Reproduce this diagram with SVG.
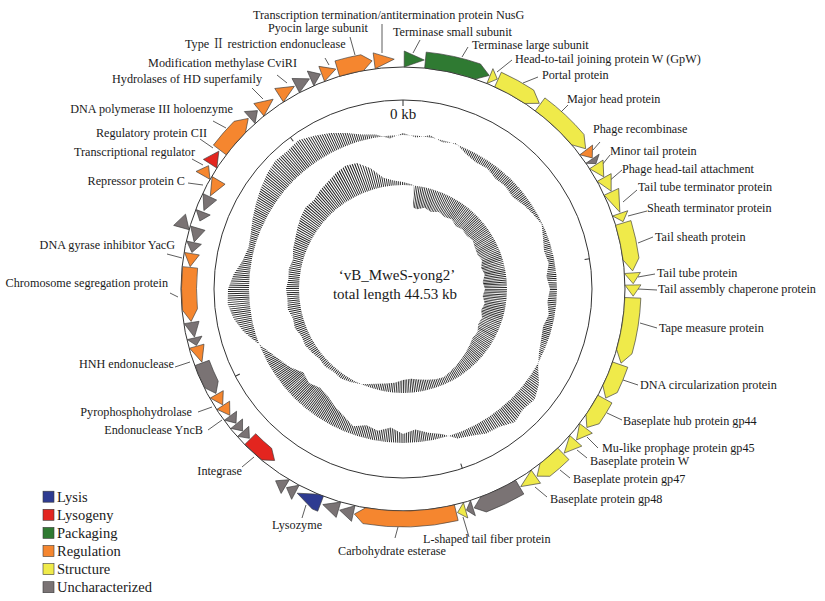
<svg xmlns="http://www.w3.org/2000/svg" width="825" height="601" viewBox="0 0 825 601">
<style>
text{font-family:"Liberation Serif","Times New Roman","Noto Serif CJK SC","Noto Sans CJK SC",serif;fill:#1a1a1a}
.l{font-size:12.2px}
.lg{font-size:14.5px}
.c{font-size:15px}
.gn path,.leg rect{stroke:#3a3a3a;stroke-width:.6}
.o{fill:#F5862F}.y{fill:#EFEA4A}.gr{fill:#2F7A32}.u{fill:#7A7374}.r{fill:#E3251F}.b{fill:#2E3B91}
#connectors path{stroke:#333;stroke-width:.8;fill:none}
.ax{fill:none;stroke:#333;stroke-width:1}
.tk{stroke:#333;stroke-width:1;fill:none}
.h{fill:none;stroke:#222;stroke-dasharray:0.9 1.05}
</style>
<defs>
<clipPath id="c1"><path clip-rule="evenodd" d="M0 -156L13.25 -151.42L27.08 -153.63L39.34 -146.82L53.01 -145.65L62.97 -135.04L73 -126.44L84.32 -120.42L92.56 -110.3L102.53 -102.53L109.54 -91.92L120.42 -84.32L129.9 -75L138.66 -64.66L140.02 -50.96L141.02 -37.78L145.75 -25.69L143.45 -12.56L147 0L144.45 12.64L145.75 25.69L140.06 37.53L138.14 50.27L135.95 63.39L135.1 78L135.99 95.22L131.75 110.56L120.21 120.21L111.85 133.28L96.36 137.63L83.5 144.62L68.46 146.82L54.38 149.41L38.82 144.89L25.35 143.78L12.3 140.46L0 145L-12.12 138.47L-25 141.81L-36.49 136.19L-49.93 137.2L-59.16 126.88L-68 117.78L-75.14 107.32L-82.92 98.81L-94.04 94.04L-99.58 83.56L-112.23 78.58L-122.97 71L-134.13 62.54L-146.59 53.35L-159.37 42.7L-169.39 29.86L-175.33 15.35L-175 0L-169.35 -14.82L-160.52 -28.3L-154.54 -41.41L-152.23 -55.4L-150.45 -70.15L-147.22 -85L-142.54 -99.81L-136.35 -114.42L-127.99 -127.99L-115.7 -137.88L-104.4 -149.09L-88.5 -153.28L-72.69 -155.88L-56.77 -155.99L-41.41 -154.54L-27.26 -154.61L-13.17 -150.43ZM0 -154A154 154 0 1 1 0 154A154 154 0 1 1 0 -154Z"/></clipPath>
<clipPath id="c2"><path clip-rule="evenodd" d="M0 -107L9.16 -104.6L10.87 -103.43L10 -81.39L14.06 -79.77L21.74 -81.14L28.04 -77.06L35.92 -77.04L41.5 -71.88L48.76 -69.63L52.71 -62.81L59.4 -59.4L63.58 -53.35L69.63 -48.76L71.88 -41.5L74.32 -34.65L78.93 -28.73L78.24 -20.96L81.74 -14.41L79.7 -6.98L82 0L79.7 6.98L81.74 14.41L78.24 20.96L78.93 28.73L75.22 35.08L74.48 43L69.63 48.76L66.64 55.92L62.93 62.93L58.49 69.71L53.34 76.19L47.5 82.27L40.99 87.91L32.83 90.21L24.33 90.79L15.97 90.6L7.85 89.66L0 91L-8.2 93.64L-16.67 94.54L-25.36 94.66L-34.54 94.91L-44.16 94.71L-53.5 92.66L-62.52 89.29L-69.42 82.73L-77.78 77.78L-83.49 70.07L-90.93 63.67L-97.86 56.5L-101.51 47.33L-108.07 39.33L-110.11 29.5L-115.22 20.31L-115.56 10.12L-117 0L-114.56 -10.03L-114.24 -20.14L-110.11 -29.5L-109.94 -40.01L-107.85 -50.29L-105.65 -61L-102.4 -71.7L-97.28 -81.64L-89.09 -89.09L-82.92 -98.81L-75.14 -107.32L-67 -116.04L-57.47 -123.26L-45.83 -125.92L-32.35 -120.74L-19.62 -111.28L-9.5 -108.59ZM0 -104A104 104 0 1 1 0 104A104 104 0 1 1 0 -104Z"/></clipPath>
</defs>
<rect width="825" height="601" fill="#fff"/>
<g id="map-axes" transform="translate(403 289)">
<circle class="ax" r="222" stroke="#555"/>
<circle class="ax" r="189"/>
<circle class="h" r="155.5" stroke-width="60" clip-path="url(#c1)"/>
<circle class="h" r="107.5" stroke-width="66" clip-path="url(#c2)"/>
<path class="tk" d="M0-189v6"/>
<path class="tk" d="M0-189v5" transform="rotate(80.8)"/>
<path class="tk" d="M0-189v5" transform="rotate(161.7)"/>
<path class="tk" d="M0-189v5" transform="rotate(242.5)"/>
<path class="tk" d="M0-189v5" transform="rotate(323.4)"/>
</g>
<g id="title">
<text class="c" x="403" y="118.5" text-anchor="middle">0 kb</text>
<text class="c" x="397" y="280" text-anchor="middle">‘vB_MweS-yong2’</text>
<text class="c" x="395" y="299" text-anchor="middle">total length 44.53 kb</text>
</g>
<g id="connectors">
<path d="M382 24V53"/><path d="M350 37L355 55"/><path d="M420 40L413 53"/><path d="M468 47L462 57"/><path d="M512 60L497 72"/><path d="M538 77L523 83"/><path d="M568 105L558 115"/><path d="M600 142L593 150"/><path d="M610 155L602 165"/><path d="M622 170L608 182"/><path d="M637 190L623 202"/><path d="M647 211L628 216"/><path d="M653 237L638 243"/><path d="M655 274L638 277"/><path d="M657 290L638 289"/><path d="M657 328L640 323"/><path d="M638 385L623 380"/><path d="M622 420L607 413"/><path d="M598 448L587 437"/><path d="M587 458L577 450"/><path d="M570 478L560 470"/><path d="M547 497L535 487"/><path d="M469 537L463 517"/><path d="M395 538L398 527"/><path d="M302 518L306 505"/><path d="M242 467L254 457"/><path d="M208 430L222 420"/><path d="M198 412L212 407"/><path d="M175 367L190 362"/><path d="M170 293L178 297"/><path d="M167 254L182 258"/><path d="M188 183L203 185"/><path d="M192 159L203 165"/><path d="M200 139L213 148"/><path d="M213 121L226 128"/><path d="M252 88L263 99"/><path d="M277 75L287 83"/><path d="M325 58L329 65"/>
</g>
<g id="genes">
<g id="terminase-small" class="gn"><path class="gr" transform="translate(403 289)rotate(0.3)" d="M0-222V-238L20.1-229.1Z"/><text class="l" x="393" y="36">Terminase small subunit</text></g>
<g id="terminase-large" class="gn"><path class="gr" transform="translate(403 289)rotate(19)" d="M-51.44-215.96L-55.15-231.53A238 238 0 0 1 0-238L12-230L0-222A222 222 0 0 0-51.44-215.96Z"/><text class="l" x="472" y="49">Terminase large subunit</text></g>
<g id="head-to-tail" class="gn"><path class="y" transform="translate(403 289)rotate(22.2)" d="M0-222V-238L8-230Z"/><text class="l" x="515" y="63.3">Head-to-tail joining protein W (GpW)</text></g>
<g id="portal" class="gn"><path class="y" transform="translate(403 289)rotate(33.3)" d="M-34.35-219.34L-36.82-235.14A238 238 0 0 1 0-238L12-230L0-222A222 222 0 0 0-34.35-219.34Z"/><text class="l" x="542" y="79.3">Portal protein</text></g>
<g id="major-head" class="gn"><path class="y" transform="translate(403 289)rotate(49.5)" d="M-49.57-216.41L-53.15-232A238 238 0 0 1 0-238L12-230L0-222A222 222 0 0 0-49.57-216.41Z"/><text class="l" x="567" y="103.3">Major head protein</text></g>
<g id="recombinase" class="gn"><path class="o" transform="translate(403 289)rotate(52.8)" d="M0-222V-238L10-230Z"/><text class="l" x="593" y="133.3">Phage recombinase</text></g>
<g id="orf-a" class="gn"><path class="u" transform="translate(403 289)rotate(55.5)" d="M0-222V-238L6-230Z"/></g>
<g id="minor-tail" class="gn"><path class="y" transform="translate(403 289)rotate(57.2)" d="M0-222V-238L14.5-229.5Z"/><text class="l" x="610" y="155">Minor tail protein</text></g>
<g id="head-tail-attachment" class="gn"><path class="y" transform="translate(403 289)rotate(61)" d="M0-222V-238L15.3-229.5Z"/><text class="l" x="622" y="173.3">Phage head-tail attachment</text></g>
<g id="tail-tube-terminator" class="gn"><path class="y" transform="translate(403 289)rotate(65)" d="M0-222V-238L22.1-229Z"/><text class="l" x="638" y="191">Tail tube terminator protein</text></g>
<g id="sheath-terminator" class="gn"><path class="y" transform="translate(403 289)rotate(70.8)" d="M0-222V-238L8.8-230Z"/><text class="l" x="647" y="212.3">Sheath terminator protein</text></g>
<g id="tail-sheath" class="gn"><path class="y" transform="translate(403 289)rotate(82.5)" d="M-35.5-219.14L-38.06-234.93A238 238 0 0 1 0-238L12-230L0-222A222 222 0 0 0-35.5-219.14Z"/><text class="l" x="655" y="241">Tail sheath protein</text></g>
<g id="tail-tube" class="gn"><path class="y" transform="translate(403 289)rotate(86)" d="M0-222V-238L10.8-230Z"/><text class="l" x="657" y="276.7">Tail tube protein</text></g>
<g id="tail-chaperone" class="gn"><path class="y" transform="translate(403 289)rotate(89)" d="M0-222V-238L11.2-230Z"/><text class="l" x="658" y="292.7">Tail assembly chaperone protein</text></g>
<g id="tape-measure" class="gn"><path class="y" transform="translate(403 289)rotate(105.8)" d="M-52.19-215.78L-55.95-231.34A238 238 0 0 1 0-238L12-230L0-222A222 222 0 0 0-52.19-215.78Z"/><text class="l" x="659" y="332.3">Tape measure protein</text></g>
<g id="dna-circularization" class="gn"><path class="y" transform="translate(403 289)rotate(115.8)" d="M-25.51-220.53L-27.35-236.43A238 238 0 0 1 0-238L10-230L0-222A222 222 0 0 0-25.51-220.53Z"/><text class="l" x="640" y="389.3">DNA circularization protein</text></g>
<g id="gp44" class="gn"><path class="y" transform="translate(403 289)rotate(124.5)" d="M-22.82-220.82L-24.47-236.74A238 238 0 0 1 0-238L10-230L0-222A222 222 0 0 0-22.82-220.82Z"/><text class="l" x="623" y="425">Baseplate hub protein gp44</text></g>
<g id="gp45" class="gn"><path class="y" transform="translate(403 289)rotate(127.3)" d="M0-222V-238L14.9-229.5Z"/><text class="l" x="602" y="451.7">Mu-like prophage protein gp45</text></g>
<g id="baseplate-w" class="gn"><path class="y" transform="translate(403 289)rotate(131.3)" d="M0-222V-238L16.9-229.4Z"/><text class="l" x="590" y="465">Baseplate protein W</text></g>
<g id="gp47" class="gn"><path class="y" transform="translate(403 289)rotate(141.9)" d="M-23.6-220.74L-25.3-236.64A238 238 0 0 1 0-238L10-230L0-222A222 222 0 0 0-23.6-220.74Z"/><text class="l" x="573" y="482.7">Baseplate protein gp47</text></g>
<g id="gp48" class="gn"><path class="y" transform="translate(403 289)rotate(144.7)" d="M0-222V-238L18.1-229.3Z"/><text class="l" x="550" y="502.7">Baseplate protein gp48</text></g>
<g id="orf-b" class="gn"><path class="u" transform="translate(403 289)rotate(159.5)" d="M-38.54-218.63L-41.32-234.38A238 238 0 0 1 0-238L10-230L0-222A222 222 0 0 0-38.54-218.63Z"/></g>
<g id="orf-c" class="gn"><path class="u" transform="translate(403 289)rotate(162.3)" d="M0-222V-238L6.8-230Z"/></g>
<g id="l-shaped-fiber" class="gn"><path class="y" transform="translate(403 289)rotate(164.2)" d="M0-222V-238L8.4-230Z"/><text class="l" x="423" y="543.3">L-shaped tail fiber protein</text></g>
<g id="carbohydrate-esterase" class="gn"><path class="o" transform="translate(403 289)rotate(189.7)" d="M-87.09-204.2L-93.37-218.91A238 238 0 0 1 0-238L10-230L0-222A222 222 0 0 0-87.09-204.2Z"/><text class="l" x="338" y="555">Carbohydrate esterase</text></g>
<g id="orf-d" class="gn"><path class="u" transform="translate(403 289)rotate(192.5)" d="M0-222V-238L14-229.6Z"/></g>
<g id="orf-e" class="gn"><path class="u" transform="translate(403 289)rotate(196.3)" d="M0-222V-238L16.5-229.4Z"/></g>
<g id="lysozyme" class="gn"><path class="b" transform="translate(403 289)rotate(202.4)" d="M-5.42-221.93L-5.81-237.93A238 238 0 0 1 0-238L20-229.1L0-222A222 222 0 0 0-5.42-221.93Z"/><text class="l" x="272" y="529">Lysozyme</text></g>
<g id="orf-f" class="gn"><path class="u" transform="translate(403 289)rotate(207.9)" d="M0-222V-238L10-230Z"/></g>
<g id="orf-g" class="gn"><path class="u" transform="translate(403 289)rotate(210.8)" d="M0-222V-238L11.2-230Z"/></g>
<g id="integrase" class="gn"><path class="r" transform="translate(403 289)rotate(219.5)" d="M0-206.5L-10-214L0-221.5A221.5 221.5 0 0 1 23.15-220.28L21.58-205.36A206.5 206.5 0 0 0 0-206.5Z"/><text class="l" x="242" y="475" text-anchor="end">Integrase</text></g>
<g id="orf-h" class="gn"><path class="u" transform="translate(403 289)rotate(228.3)" d="M0-206.5V-221.5L-9.3-214Z"/></g>
<g id="orf-i" class="gn"><path class="u" transform="translate(403 289)rotate(231)" d="M0-206.5V-221.5L-9.3-214Z"/></g>
<g id="orf-j" class="gn"><path class="u" transform="translate(403 289)rotate(233.7)" d="M0-206.5V-221.5L-9.3-214Z"/></g>
<g id="yncb" class="gn"><path class="o" transform="translate(403 289)rotate(237.1)" d="M0-206.5V-221.5L-12-214Z"/><text class="l" x="203" y="434" text-anchor="end">Endonuclease YncB</text></g>
<g id="pyrophosphohydrolase" class="gn"><path class="o" transform="translate(403 289)rotate(240.5)" d="M0-206.5V-221.5L-12-214Z"/><text class="l" x="192" y="416" text-anchor="end">Pyrophosphohydrolase</text></g>
<g id="orf-k" class="gn"><path class="u" transform="translate(403 289)rotate(243.5)" d="M0-206.5L-10-214L0-221.5A221.5 221.5 0 0 1 24.3-220.17L22.65-205.26A206.5 206.5 0 0 0 0-206.5Z"/></g>
<g id="hnh" class="gn"><path class="o" transform="translate(403 289)rotate(254.5)" d="M0-206.5V-221.5L-16.8-213.3Z"/><text class="l" x="174" y="368.3" text-anchor="end">HNH endonuclease</text></g>
<g id="orf-l" class="gn"><path class="u" transform="translate(403 289)rotate(256.8)" d="M0-206.5V-221.5L-7.8-214Z"/></g>
<g id="orf-m" class="gn"><path class="u" transform="translate(403 289)rotate(261)" d="M0-206.5V-221.5L-14.9-213.5Z"/></g>
<g id="chromosome-segregation" class="gn"><path class="o" transform="translate(403 289)rotate(264.5)" d="M0-206.5L-12-214L0-221.5A221.5 221.5 0 0 1 43.39-217.2L40.45-202.49A206.5 206.5 0 0 0 0-206.5Z"/><text class="l" x="168" y="287.3" text-anchor="end">Chromosome segregation protein</text></g>
<g id="yacg" class="gn"><path class="o" transform="translate(403 289)rotate(279.5)" d="M0-206.5V-221.5L-13.1-213.6Z"/><text class="l" x="175" y="249" text-anchor="end">DNA gyrase inhibitor YacG</text></g>
<g id="orf-n" class="gn"><path class="u" transform="translate(403 289)rotate(282.5)" d="M0-206.5V-221.5L-10.1-214Z"/></g>
<g id="orf-o" class="gn"><path class="u" transform="translate(403 289)rotate(286.5)" d="M0-206.5V-221.5L-14.2-213.6Z"/></g>
<g id="orf-p" class="gn"><path class="u" transform="translate(403 289)rotate(285.5)" d="M0-222V-238L14-229.6Z"/></g>
<g id="orf-q" class="gn"><path class="u" transform="translate(403 289)rotate(291)" d="M0-206.5V-221.5L-9.3-214Z"/></g>
<g id="orf-r" class="gn"><path class="u" transform="translate(403 289)rotate(295.5)" d="M0-206.5V-221.5L-14.9-213.5Z"/></g>
<g id="repressor-c" class="gn"><path class="o" transform="translate(403 289)rotate(300.5)" d="M0-206.5V-221.5L-17.6-213.3Z"/><text class="l" x="185" y="185" text-anchor="end">Repressor protein C</text></g>
<g id="transcriptional-regulator" class="gn"><path class="o" transform="translate(403 289)rotate(299.6)" d="M0-222V-238L11.2-230Z"/><text class="l" x="195" y="156" text-anchor="end">Transcriptional regulator</text></g>
<g id="regulatory-cii" class="gn"><path class="r" transform="translate(403 289)rotate(303)" d="M0-222V-238L15.3-229.5Z"/><text class="l" x="207" y="136.7" text-anchor="end">Regulatory protein CII</text></g>
<g id="dna-pol-iii" class="gn"><path class="o" transform="translate(403 289)rotate(314.8)" d="M-29.37-220.05L-31.49-235.91A238 238 0 0 1 0-238L12-230L0-222A222 222 0 0 0-29.37-220.05Z"/><text class="l" x="233" y="112.7" text-anchor="end">DNA polymerase III holoenzyme</text></g>
<g id="orf-s" class="gn"><path class="u" transform="translate(403 289)rotate(318.2)" d="M0-222V-238L10.4-230Z"/></g>
<g id="hd-hydrolase" class="gn"><path class="o" transform="translate(403 289)rotate(321.2)" d="M0-222V-238L17.7-229.3Z"/><text class="l" x="262" y="83.3" text-anchor="end">Hydrolases of HD superfamily</text></g>
<g id="methylase-cviri" class="gn"><path class="o" transform="translate(403 289)rotate(327.4)" d="M0-222V-238L17.7-229.3Z"/><text class="l" x="297" y="66.7" text-anchor="end">Modification methylase CviRI</text></g>
<g id="orf-t" class="gn"><path class="u" transform="translate(403 289)rotate(332.2)" d="M0-222V-238L15.3-229.5Z"/></g>
<g id="orf-u" class="gn"><path class="u" transform="translate(403 289)rotate(336.3)" d="M0-222V-238L10.8-230Z"/></g>
<g id="type-ii-re" class="gn"><path class="o" transform="translate(403 289)rotate(339.3)" d="M0-222V-238L14.9-229.5Z"/><text class="l" x="185" y="48.3">Type Ⅱ restriction endonuclease</text></g>
<g id="pyocin" class="gn"><path class="o" transform="translate(403 289)rotate(349.8)" d="M-24.75-220.62L-26.54-236.52A238 238 0 0 1 0-238L10-230L0-222A222 222 0 0 0-24.75-220.62Z"/><text class="l" x="268" y="32.3">Pyocin large subunit</text></g>
<g id="nusg" class="gn"><path class="o" transform="translate(403 289)rotate(352.8)" d="M0-222V-238L20.1-229.1Z"/><text class="l" x="253" y="19">Transcription termination/antitermination protein NusG</text></g>
</g>
<g id="legend" class="leg">
<rect class="b" x="43" y="491.2" width="11" height="11"/><text class="lg" x="57" y="501.7">Lysis</text>
<rect class="r" x="43" y="509.3" width="11" height="11"/><text class="lg" x="57" y="519.8">Lysogeny</text>
<rect class="gr" x="43" y="527.4" width="11" height="11"/><text class="lg" x="57" y="537.9">Packaging</text>
<rect class="o" x="43" y="545.5" width="11" height="11"/><text class="lg" x="57" y="556">Regulation</text>
<rect class="y" x="43" y="563.6" width="11" height="11"/><text class="lg" x="57" y="574.1">Structure</text>
<rect class="u" x="43" y="581.7" width="11" height="11"/><text class="lg" x="57" y="592.2">Uncharacterized</text>
</g>
</svg>
